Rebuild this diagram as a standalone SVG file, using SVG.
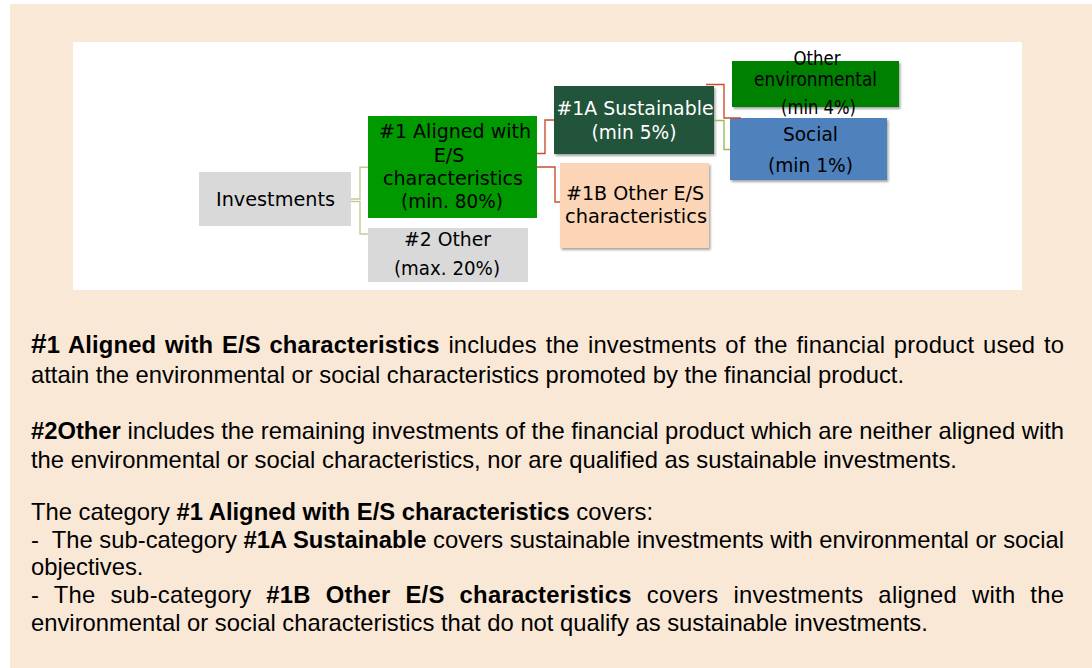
<svg xmlns="http://www.w3.org/2000/svg" width="1092" height="668" viewBox="0 0 1092 668">
<defs>
<style>
.lbl{font-family:"DejaVu Sans",Verdana,sans-serif;font-size:19px;fill:#000;text-anchor:middle}
.wht{fill:#fff}
.p{font-family:"Liberation Sans",Arial,sans-serif;font-size:23.8px;fill:#000}
.b{font-weight:bold}
.big{font-size:28px}
.cn{fill:none;stroke-width:1.4}
.ck{stroke:#C8C896}
.cr{stroke:#C9502F}
.cg{stroke:#9BBB59}
</style>
<filter id="sh" x="-10%" y="-10%" width="125%" height="140%">
<feDropShadow dx="1.5" dy="2" stdDeviation="1.2" flood-color="#000" flood-opacity="0.35"/>
</filter>
</defs>
<rect x="10" y="4" width="1082" height="664" fill="#FAE8D7"/>
<rect x="73" y="42" width="949" height="248" fill="#FFFFFF"/>

<g id="investments">
<rect x="199" y="172" width="152" height="54" fill="#D9D9D9"/>
<text class="lbl" x="275.5" y="206" textLength="119" lengthAdjust="spacingAndGlyphs">Investments</text>
</g>
<g id="aligned">
<rect x="368" y="116" width="169" height="102" fill="#009900"/>
<text class="lbl" x="455" y="138" textLength="152" lengthAdjust="spacingAndGlyphs">#1 Aligned with</text>
<text class="lbl" x="449" y="162">E/S</text>
<text class="lbl" x="453" y="185" textLength="140" lengthAdjust="spacingAndGlyphs">characteristics</text>
<text class="lbl" x="452" y="208" textLength="102" lengthAdjust="spacingAndGlyphs">(min. 80%)</text>
</g>
<g id="other">
<rect x="368" y="228" width="160" height="54" fill="#D9D9D9"/>
<text class="lbl" x="447.5" y="246" textLength="87" lengthAdjust="spacingAndGlyphs">#2 Other</text>
<text class="lbl" x="447" y="275" textLength="106" lengthAdjust="spacingAndGlyphs">(max. 20%)</text>
</g>
<g id="sustainable">
<rect x="554" y="86" width="160" height="68" fill="#24533A" filter="url(#sh)"/>
<text class="lbl wht" x="635" y="115" textLength="157" lengthAdjust="spacingAndGlyphs">#1A Sustainable</text>
<text class="lbl wht" x="634" y="139" textLength="85" lengthAdjust="spacingAndGlyphs">(min 5%)</text>
</g>
<g id="other-es">
<rect x="560" y="163" width="149" height="85" fill="#FBD5B5" filter="url(#sh)"/>
<text class="lbl" x="635" y="200" textLength="138" lengthAdjust="spacingAndGlyphs">#1B Other E/S</text>
<text class="lbl" x="636" y="223" textLength="142" lengthAdjust="spacingAndGlyphs">characteristics</text>
</g>
<g id="other-env">
<rect x="732" y="61" width="167" height="46" fill="#008000" filter="url(#sh)"/>
<text class="lbl" x="817" y="65" textLength="47" lengthAdjust="spacingAndGlyphs">Other</text>
<text class="lbl" x="815.5" y="86" textLength="123" lengthAdjust="spacingAndGlyphs">environmental</text>
<text class="lbl" x="818.5" y="114" textLength="75" lengthAdjust="spacingAndGlyphs">(min 4%)</text>
</g>
<g id="social">
<rect x="730" y="118" width="157" height="62" fill="#4F81BD" filter="url(#sh)"/>
<text class="lbl" x="810.5" y="141" textLength="55" lengthAdjust="spacingAndGlyphs">Social</text>
<text class="lbl" x="810.5" y="172" textLength="85" lengthAdjust="spacingAndGlyphs">(min 1%)</text>
</g>

<g id="connectors">
<path class="cn ck" d="M351,199 H360 V167.3 H368"/>
<path class="cn ck" d="M351,201.5 H360 V234 H368"/>
<path class="cn cr" d="M537,153.5 H545 V120 H554"/>
<path class="cn cr" d="M537,167 H555 V202 H560"/>
<path class="cn cr" d="M706,84.5 H724 V118 H741"/>
<path class="cn cg" d="M714,120.5 H724 V149.5 H730"/>
</g>

<g id="description">
<text class="p" x="31" y="353" textLength="1033" lengthAdjust="spacing" word-spacing="2"><tspan class="b"><tspan class="big">#</tspan>1 Aligned with E/S characteristics</tspan> includes the investments of the financial product used to</text>
<text class="p" x="31" y="383">attain the environmental or social characteristics promoted by the financial product.</text>
<text class="p" x="31" y="439" textLength="1033" lengthAdjust="spacing"><tspan class="b">#2Other</tspan> includes the remaining investments of the financial product which are neither aligned with</text>
<text class="p" x="31" y="468">the environmental or social characteristics, nor are qualified as sustainable investments.</text>
<text class="p" x="31" y="520">The category <tspan class="b">#1 Aligned with E/S characteristics</tspan> covers:</text>
<text class="p" x="31" y="548" textLength="1033" lengthAdjust="spacing" xml:space="preserve">-  The sub-category <tspan class="b">#1A Sustainable</tspan> covers sustainable investments with environmental or social</text>
<text class="p" x="31" y="575">objectives.</text>
<text class="p" x="31" y="603" textLength="1033" lengthAdjust="spacing" word-spacing="8">- The sub-category <tspan class="b">#1B Other E/S characteristics</tspan> covers investments aligned with the</text>
<text class="p" x="31" y="631">environmental or social characteristics that do not qualify as sustainable investments.</text>
</g>
</svg>
